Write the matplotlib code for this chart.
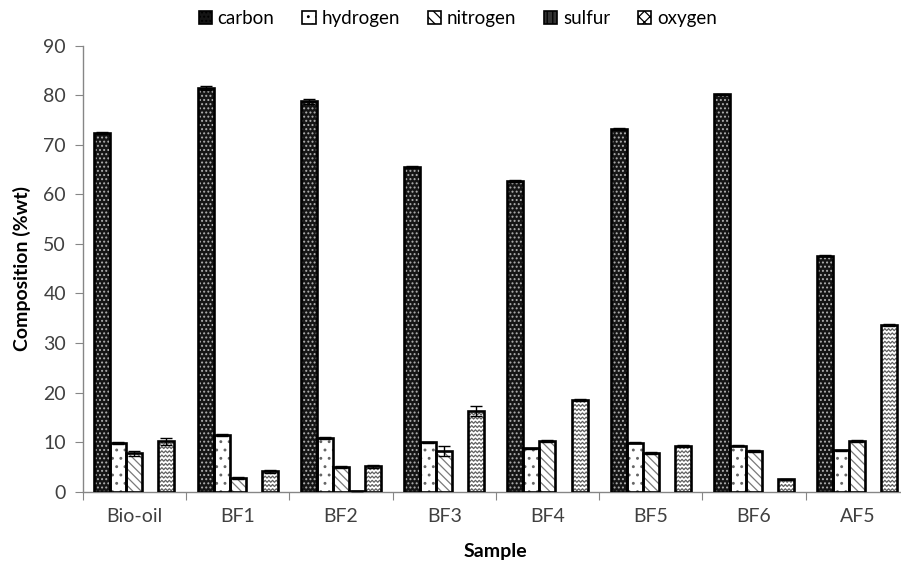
import matplotlib.pyplot as plt
import numpy as np
from matplotlib.patches import Patch

plt.rcParams['font.family'] = ['Lato', 'DejaVu Sans']

# data
samples = ['Bio-oil', 'BF1', 'BF2', 'BF3', 'BF4', 'BF5', 'BF6', 'AF5']
elements = ['carbon', 'hydrogen', 'nitrogen', 'sulfur', 'oxygen']
carbon = [72.3, 81.5, 78.8, 65.6, 62.6, 73.2, 80.2, 47.6]
hydrogen = [9.8, 11.4, 10.8, 10.0, 8.8, 9.9, 9.3, 8.4]
nitrogen = [7.8, 2.7, 5.0, 8.2, 10.2, 7.8, 8.2, 10.3]
sulfur = [0.0, 0.0, 0.2, 0.0, 0.0, 0.0, 0.0, 0.0]
oxygen = [10.2, 4.1, 5.1, 16.3, 18.6, 9.2, 2.5, 33.7]
carbon_err = [0.2, 0.4, 0.5, 0.2, 0.2, 0.2, 0.1, 0.1]
hydrogen_err = [0.2, 0.2, 0.2, 0.1, 0.1, 0.1, 0.1, 0.1]
nitrogen_err = [0.5, 0.2, 0.2, 1.0, 0.2, 0.2, 0.2, 0.2]
sulfur_err = [0.0, 0.0, 0.0, 0.0, 0.0, 0.0, 0.0, 0.0]
oxygen_err = [0.7, 0.3, 0.3, 1.0, 0.2, 0.2, 0.1, 0.2]

values = [carbon, hydrogen, nitrogen, sulfur, oxygen]
errors = [carbon_err, hydrogen_err, nitrogen_err, sulfur_err, oxygen_err]

# (face, hatch, hatch colour)
styles = [('#151515', '....', '#b0b0b0'),
          ('white', '..', '#666666'),
          ('white', '\\\\\\\\', '#7a7a7a'),
          ('#333333', '|||', 'white'),
          ('white', None, '#606060')]

W, H = 901, 563
fig = plt.figure(figsize=(W / 100, H / 100), dpi=100)
x0, x1 = 82.7, 909.0
y0, y1 = 491.7, 45.7
ax = fig.add_axes([x0 / W, (H - y0) / H, (x1 - x0) / W, (y0 - y1) / H])

n = len(samples)
bw = 0.155
gx = np.arange(n)
text_c = '#404040'
spine_c = '#868686'
plt.rcParams['hatch.linewidth'] = 0.9

for i, (vals, errs, (fc, hatch, hc)) in enumerate(zip(values, errors, styles)):
    xs = gx + 0.5 + (i - 2) * bw
    vals = np.array(vals)
    # hatch layer
    ax.bar(xs, vals, bw, color=fc, edgecolor=hc, hatch=hatch, linewidth=0, zorder=2)
    lws = np.where(vals > 0, 1.9, 0.0)
    bars = ax.bar(xs, vals, bw, facecolor='none', edgecolor='black', linewidth=lws, zorder=3)
    if i == 4:
        # zigzag fill for oxygen bars
        for b in bars:
            bx, by = b.get_x(), b.get_y()
            bwid, bh = b.get_width(), b.get_height()
            zx = np.arange(bx - 0.02, bx + bwid + 0.04, 0.018)
            zoff = np.where(np.arange(len(zx)) % 2 == 0, 0.0, 0.4)
            for level in np.arange(by + 0.2, by + bh + 0.5, 0.85):
                ln, = ax.plot(zx, level + zoff, color=hc, lw=0.9, zorder=2.5)
                ln.set_clip_path(b)
    mask = vals > 0
    ax.errorbar(xs[mask], vals[mask], yerr=np.array(errs)[mask], fmt='none', ecolor='black',
                elinewidth=1.0, capsize=4, capthick=1.0, zorder=4)

ax.set_xlim(0, n)
ax.set_ylim(0, 90)
ax.set_yticks(np.arange(0, 91, 10))
ax.set_xticks(gx, minor=False)
ax.set_xticks(gx + 0.5, minor=True)
ax.set_xticklabels([])
ax.set_xticklabels(samples, minor=True)
ax.tick_params(axis='x', which='major', length=6, color=spine_c, direction='out')
ax.tick_params(axis='x', which='minor', length=0, pad=12, labelsize=14, labelcolor=text_c)
ax.tick_params(axis='y', length=6, color=spine_c, labelsize=14, labelcolor=text_c, pad=6)
for s in ['top', 'right']:
    ax.spines[s].set_visible(False)
for s in ['left', 'bottom']:
    ax.spines[s].set_color(spine_c)
    ax.spines[s].set_linewidth(1.0)

ax.set_xlabel('Sample', fontsize=14, fontweight='bold', color='black', labelpad=13)
ax.set_ylabel('Composition (%wt)', fontsize=14, fontweight='bold', color='black', labelpad=9)

handles = []
legend_hatch = ['....', '..', '\\\\\\', '|||', 'xxx']
for (fc, hatch, hc), lh in zip(styles, legend_hatch):
    handles.append(Patch(facecolor=fc, edgecolor='black', hatch=lh, linewidth=1.2))
leg = fig.legend(handles, elements, loc='upper center', bbox_to_anchor=(0.508, 1.012),
                 ncol=5, frameon=False, fontsize=13.5, handlelength=0.7, handleheight=0.7,
                 handletextpad=0.3, columnspacing=1.5)
for t in leg.get_texts():
    t.set_color('black')

fig.savefig('out.png', dpi=100)
